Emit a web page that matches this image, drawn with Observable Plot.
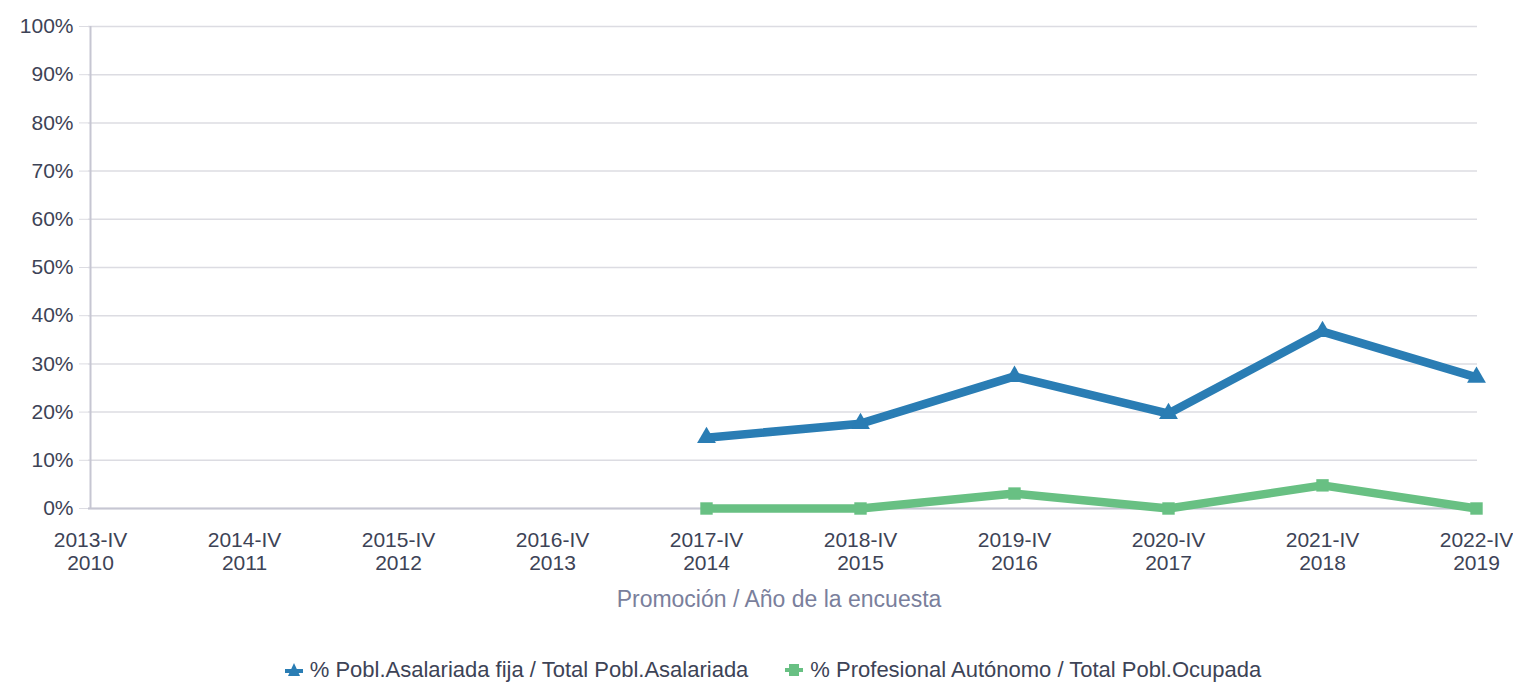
<!DOCTYPE html>
<html>
<head>
<meta charset="utf-8">
<script src="https://cdn.jsdelivr.net/npm/d3@7"></script>
<script src="https://cdn.jsdelivr.net/npm/@observablehq/plot@0.6"></script>
<style>
  html, body { margin: 0; padding: 0; background: #fff; }
  body { width: 1513px; height: 683px; overflow: hidden; font-family: "Liberation Sans", Arial, sans-serif; }
  #legend { display: flex; justify-content: center; align-items: center; gap: 36px; font-size: 22px; color: #3d4356; margin-top: 7px; padding-left: 32px; line-height: 26px; }
  #legend .item { display: flex; align-items: center; gap: 6px; }
</style>
</head>
<body>
<div id="chart"></div>
<div id="legend"></div>
<script>
const promocion = ["2013-IV","2014-IV","2015-IV","2016-IV","2017-IV","2018-IV","2019-IV","2020-IV","2021-IV","2022-IV"];
const anioEncuesta = ["2010","2011","2012","2013","2014","2015","2016","2017","2018","2019"];
const asalariadaFija = [null, null, null, null, 14.7, 17.6, 27.4, 19.7, 36.7, 27.2];
const autonomo = [null, null, null, null, 0, 0, 3.1, 0, 4.8, 0];
const yTicks = [0,10,20,30,40,50,60,70,80,90,100];
const seriesNames = ["% Pobl.Asalariada fija / Total Pobl.Asalariada", "% Profesional Autónomo / Total Pobl.Ocupada"];
const seriesColors = ["#2a7db4", "#68c083"];

const cats = promocion.map((p, i) => p + "\n" + anioEncuesta[i]);
const rows = [];
cats.forEach((c, i) => {
  if (asalariadaFija[i] != null) rows.push({cat: c, v: asalariadaFija[i] / 100, s: seriesNames[0]});
});
cats.forEach((c, i) => {
  if (autonomo[i] != null) rows.push({cat: c, v: autonomo[i] / 100, s: seriesNames[1]});
});
const blue = rows.filter(d => d.s === seriesNames[0]);
const green = rows.filter(d => d.s === seriesNames[1]);

const chart = Plot.plot({
  width: 1513,
  height: 650,
  marginLeft: 88,
  marginRight: 36,
  marginTop: 26,
  marginBottom: 142,
  style: {fontFamily: "Liberation Sans, Arial, sans-serif", fontSize: "21px", color: "#3d4356", background: "#fff"},
  x: {type: "point", domain: cats, padding: 0},
  y: {domain: [0, 1]},
  marks: [
    Plot.gridY(yTicks.map(t => t / 100), {stroke: "#dcdce2", strokeOpacity: 1, strokeWidth: 1.5}),
    Plot.axisY(yTicks.map(t => t / 100), {tickFormat: d => Math.round(d * 100) + "%", tickSize: 9, tickPadding: 6, stroke: "#dcdce2", fill: "#3d4356", fontSize: 21, label: null}),
    Plot.axisX({tickSize: 0, tickPadding: 22, fill: "#3d4356", fontSize: 21, lineHeight: 1.1, label: null}),
    Plot.text(["Promoción / Año de la encuesta"], {frameAnchor: "bottom", dy: 98, dx: -4, fill: "#7a7f9c", fontSize: 23}),
    Plot.ruleY([0], {stroke: "#c6c6d2", strokeWidth: 2}),
    Plot.ruleX([cats[0]], {stroke: "#c6c6d2", strokeWidth: 2}),
    Plot.line(blue, {x: "cat", y: "v", stroke: seriesColors[0], strokeWidth: 8.5}),
    Plot.dot(blue, {x: "cat", y: "v", symbol: "triangle", r: 7, fill: seriesColors[0]}),
    Plot.line(green, {x: "cat", y: "v", stroke: seriesColors[1], strokeWidth: 8.5}),
    Plot.dot(green, {x: "cat", y: "v", symbol: "square", r: 7, fill: seriesColors[1]})
  ]
});
document.getElementById("chart").appendChild(chart);

const legend = document.getElementById("legend");
seriesNames.forEach((name, i) => {
  const item = document.createElement("div");
  item.className = "item";
  const icon = i === 0
    ? `<svg width="20" height="16"><line x1="1" y1="9" x2="19" y2="9" stroke="${seriesColors[0]}" stroke-width="4"/><path d="M10,1 L16,14 L4,14 Z" fill="${seriesColors[0]}"/></svg>`
    : `<svg width="20" height="16"><line x1="1" y1="8" x2="19" y2="8" stroke="${seriesColors[1]}" stroke-width="4"/><rect x="5" y="2" width="10" height="12" fill="${seriesColors[1]}"/></svg>`;
  item.innerHTML = icon + `<span>${name}</span>`;
  legend.appendChild(item);
});
</script>
</body>
</html>
